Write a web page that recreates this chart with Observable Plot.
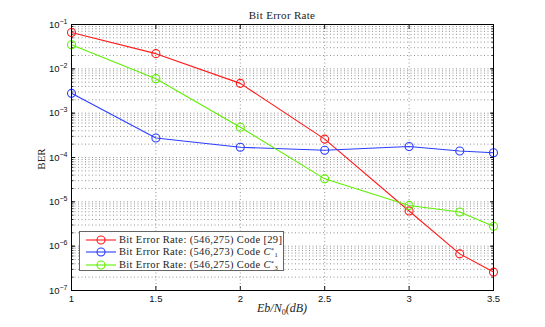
<!DOCTYPE html>
<html>
<head>
<meta charset="utf-8">
<script src="https://cdn.jsdelivr.net/npm/d3@7"></script>
<script src="https://cdn.jsdelivr.net/npm/@observablehq/plot@0.6"></script>
<style>
  html, body { margin: 0; padding: 0; background: #fff; }
  #wrap { position: relative; width: 545px; height: 327px; overflow: hidden; }
  #wrap > svg { position: absolute; left: 0; top: 0; }
  .serif { font-family: "Liberation Serif", "DejaVu Serif", serif; color: #222; position: absolute; white-space: nowrap; }
  #title { left: 0; width: 564px; text-align: center; top: 9px; font-size: 11px; letter-spacing: 0.3px; }
  #xlab { left: 0; width: 564px; text-align: center; top: 301px; font-size: 12px; font-style: italic; }
  #ylab { left: 41px; top: 159px; font-size: 11px; transform: translate(-50%, -50%) rotate(-90deg); }
  #legend { left: 79px; top: 231px; width: 203px; height: 38px; border: 1.5px solid #666; background: #fff; font-size: 10.5px; letter-spacing: 0.35px; }
  .row { position: absolute; left: 0; height: 12px; }
  .row svg { position: absolute; left: 5px; top: 0; }
  .row span.t { position: absolute; left: 39px; top: 0px; line-height: 12px; }
  .row sup, .row sub { font-size: 6.5px; line-height: 0; letter-spacing: 0; }
  .row sup { vertical-align: 3px; }
  .row sub { vertical-align: -2px; margin-left: 0.5px; }
</style>
</head>
<body>
<div id="wrap"></div>
<script>
// ---- data ----
const snrDb = [1, 1.5, 2, 2.5, 3, 3.3, 3.5];
const berCode29 = [0.066, 0.022, 0.0047, 2.6e-4, 6.2e-6, 6.7e-7, 2.6e-7];
const berC1 = [2.8e-3, 2.75e-4, 1.7e-4, 1.46e-4, 1.77e-4, 1.4e-4, 1.28e-4];
const berC3 = [0.035, 0.006, 4.8e-4, 3.3e-5, 8.3e-6, 5.9e-6, 2.8e-6];
const seriesNames = ["Code [29]", "Code C1*", "Code C3*"];
const seriesColors = ["#ff1a1a", "#2b3dff", "#5ef000"];
const xTicks = [1, 1.5, 2, 2.5, 3, 3.5];
const xTickLabels = ["1", "1.5", "2", "2.5", "3", "3.5"];
const yTicks = [1e-7, 1e-6, 1e-5, 1e-4, 1e-3, 1e-2, 1e-1];
const yTickExponents = ["−7", "−6", "−5", "−4", "−3", "−2", "−1"];

const seriesValues = [berCode29, berC1, berC3];
const rows = [];
seriesValues.forEach((vals, s) => vals.forEach((v, i) => rows.push({series: seriesNames[s], x: snrDb[i], y: v})));

const yMinor = d3.scaleLog().domain([1e-7, 1e-1]).ticks();
const xGrid = xTicks;

const plot = Plot.plot({
  width: 545, height: 327,
  marginLeft: 71, marginRight: 52, marginTop: 24, marginBottom: 37,
  style: {fontFamily: "'Liberation Sans', Arial, sans-serif", fontSize: "9.5px", color: "#111", background: "transparent"},
  x: {domain: [1, 3.5], type: "linear"},
  y: {type: "log", domain: [1e-7, 1e-1]},
  color: {domain: seriesNames, range: seriesColors},
  marks: [
    Plot.ruleY(yMinor, {stroke: "#777", strokeDasharray: "1,2.5", strokeWidth: 0.8}),
    Plot.ruleX(xGrid, {stroke: "#777", strokeDasharray: "1,2.5", strokeWidth: 0.8}),
    Plot.axisY({ticks: yMinor, tickSize: -2.5, tickFormat: () => "", stroke: "#333", anchor: "left", label: null}),
    Plot.axisY({ticks: yMinor, tickSize: -2.5, tickFormat: () => "", stroke: "#333", anchor: "right", label: null}),
    Plot.axisY({ticks: yTicks, tickSize: -4, anchor: "left", tickPadding: 8, tickFormat: () => "10", label: null, ariaLabel: "ymajor"}),
    Plot.axisY({ticks: yTicks, tickSize: -4, anchor: "right", tickFormat: () => "", label: null}),
    Plot.axisX({ticks: xTicks, tickSize: -4, anchor: "bottom", tickPadding: 9, tickFormat: (d) => xTickLabels[xTicks.indexOf(d)], label: null}),
    Plot.axisX({ticks: xTicks, tickSize: -4, anchor: "top", tickFormat: () => "", label: null}),
    Plot.line(rows, {x: "x", y: "y", z: "series", stroke: "series", strokeWidth: 1.1}),
    Plot.dot(rows, {x: "x", y: "y", stroke: "series", r: 4, strokeWidth: 1.1, fill: "none"}),
    Plot.frame({stroke: "#000", strokeWidth: 1})
  ]
});

const wrap = document.getElementById("wrap");
wrap.appendChild(plot);

// add exponents to major y tick labels
d3.select(plot).selectAll("g[aria-label='ymajor-tick-label'] text, g[aria-label='ymajor tick label'] text").each(function(d, i) {
  d3.select(this).append("tspan").attr("dy", "-0.55em").attr("font-size", "7px").text(yTickExponents[i]);
});

function addDiv(id, html) {
  const d = document.createElement("div");
  d.id = id; d.className = "serif"; d.innerHTML = html;
  wrap.appendChild(d);
  return d;
}
addDiv("title", "Bit Error Rate");
addDiv("xlab", "Eb/N<sub style='font-size:8px;font-style:normal'>0</sub>(dB)");
addDiv("ylab", "BER");

const legendLabels = [
  "Bit Error Rate: (546,275) Code [29]",
  "Bit Error Rate: (546,273) Code <i>C</i><sup>*</sup><sub>1</sub>",
  "Bit Error Rate: (546,275) Code <i>C</i><sup>*</sup><sub>3</sub>"
];
const leg = addDiv("legend", "");
const rowTops = [1.5, 14, 26.5];
legendLabels.forEach((lab, i) => {
  const r = document.createElement("div");
  r.className = "row";
  r.style.top = rowTops[i] + "px";
  r.innerHTML = `<svg width="32" height="12"><line x1="1" x2="31" y1="6" y2="6" stroke="${seriesColors[i]}" stroke-width="1.1"/><circle cx="16" cy="6" r="4" fill="none" stroke="${seriesColors[i]}" stroke-width="1.1"/></svg><span class="t">${lab}</span>`;
  leg.appendChild(r);
});
</script>
</body>
</html>
